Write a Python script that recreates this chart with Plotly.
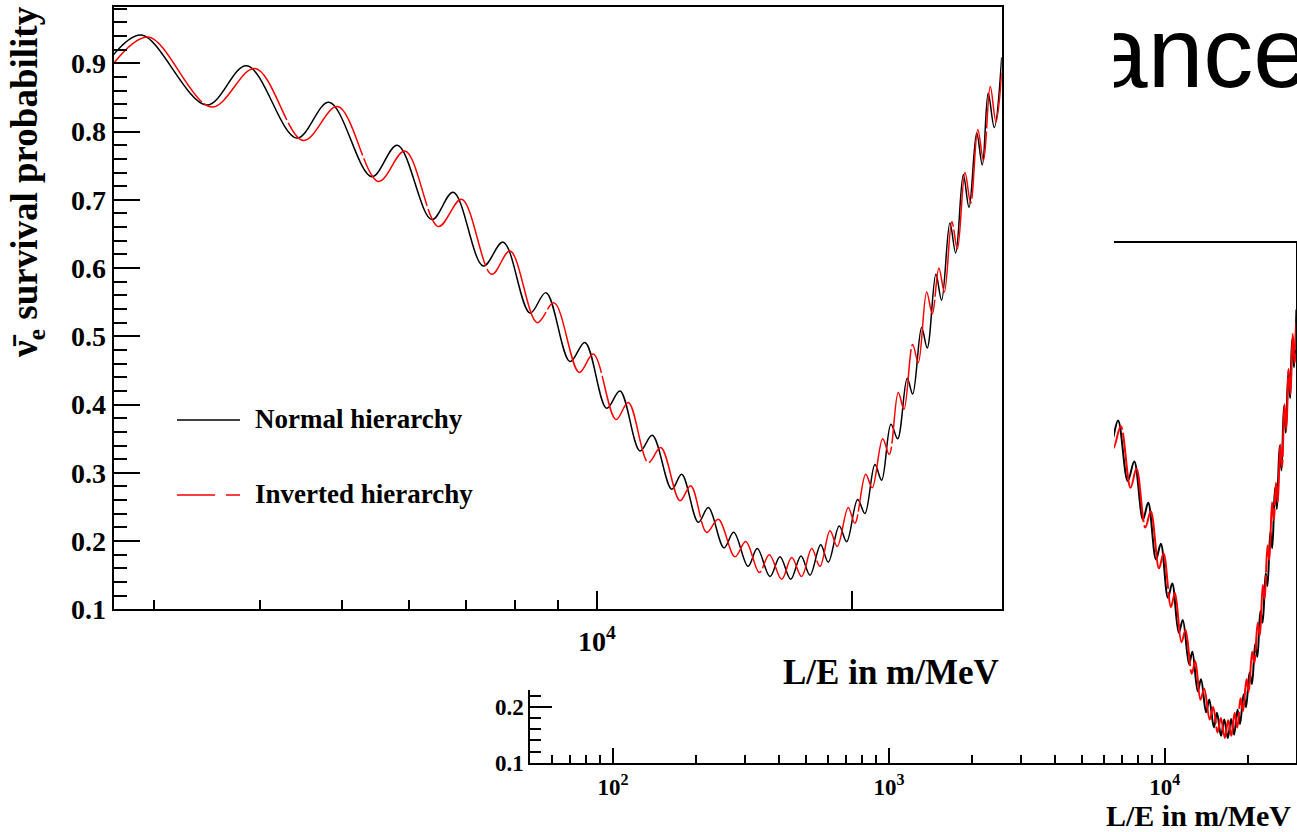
import math
import plotly.graph_objects as go

# ---------------- data ----------------
# L/E (m/MeV) of the turning points of the survival probability curves
le_nh = [2692, 2905, 3465, 3863, 4425, 4831, 5424, 5815, 6385, 6768, 7343, 7752, 8337, 8707,
         9294, 9678, 10266, 10644, 11239, 11620, 12250, 12587, 13167, 13530, 14119, 14495,
         15070, 15453, 15996, 16436, 16920, 17400, 17831, 18355, 18740, 19305, 19700, 20294,
         20701, 21270, 21661, 22216, 22624, 23220, 23565, 24147, 24518, 25100, 25491, 26073,
         26485, 27040, 27460, 28040, 28470, 28930, 29410, 30010]
p_nh = [0.913, 0.9415, 0.839, 0.8965, 0.7905, 0.843, 0.734, 0.780, 0.671, 0.711, 0.603, 0.638,
        0.534, 0.564, 0.463, 0.491, 0.3945, 0.420, 0.332, 0.355, 0.276, 0.298, 0.2275, 0.249,
        0.190, 0.213, 0.163, 0.189, 0.148, 0.177, 0.144, 0.178, 0.150, 0.1945, 0.169, 0.222,
        0.199, 0.261, 0.2405, 0.312, 0.289, 0.371, 0.350, 0.4385, 0.4155, 0.513, 0.483, 0.591,
        0.553, 0.666, 0.622, 0.737, 0.689, 0.798, 0.751, 0.856, 0.806, 0.909]

le_ih = [2692, 2958, 3512, 3952, 4505, 4945, 5523, 5937, 6501, 6924, 7513, 7897, 8502, 8899,
         9530, 9900, 10529, 10888, 11495, 11890, 12529, 12898, 13472, 13900, 14545, 14977,
         15539, 15967, 16512, 16966, 17433, 17913, 18323, 18826, 19203, 19781, 20144, 20742,
         21114, 21720, 22114, 22660, 23014, 23565, 23927, 24478, 24853, 25304, 25685, 26211,
         26607, 27164, 27587, 28125, 28561, 29092, 29545, 30010]
p_ih = [0.900, 0.9386, 0.836, 0.8925, 0.787, 0.8366, 0.727, 0.7715, 0.661, 0.7007, 0.591, 0.625,
        0.520, 0.549, 0.447, 0.474, 0.378, 0.403, 0.315, 0.337, 0.259, 0.281, 0.2125, 0.232,
        0.177, 0.1995, 0.154, 0.180, 0.144, 0.176, 0.148, 0.189, 0.163, 0.215, 0.192, 0.249,
        0.226, 0.298, 0.278, 0.350, 0.327, 0.4175, 0.393, 0.488, 0.4615, 0.565, 0.533, 0.600,
        0.565, 0.668, 0.628, 0.740, 0.695, 0.803, 0.758, 0.866, 0.814, 0.886]

series_names = ["Normal hierarchy", "Inverted hierarchy"]

# tick values / labels
main_x_major = [10000, 20000]
main_x_major_text = ["10<sup>4</sup>", ""]
main_x_minor = [3000, 4000, 5000, 6000, 7000, 8000, 9000]
main_y_major = [0.1, 0.2, 0.3, 0.4, 0.5, 0.6, 0.7, 0.8, 0.9]

small_x_major = [100, 1000, 10000]
small_x_major_text = ["10<sup>2</sup>", "10<sup>3</sup>", "10<sup>4</sup>"]
small_x_minor = [50, 60, 70, 80, 90, 200, 300, 400, 500, 600, 700, 800, 900,
                 2000, 3000, 4000, 5000, 6000, 7000, 8000, 9000, 20000]
small_y_major = [0.1, 0.2, 0.3, 0.4, 0.5, 0.6, 0.7, 0.8, 0.9, 1.0]

x_title = "L/E in m/MeV"
y_title = "ν\u0304<sub>e</sub> survival probability"
slide_text = "ance"

# ---------------- figure ----------------
W, H = 1297, 832
SERIF = "Liberation Serif, Times New Roman, serif"


def px_x(v):
    return v / W


def px_y(v):
    return 1 - v / H


fig = go.Figure()

# background plot (bottom right), subplot x/y
fig.add_trace(go.Scatter(x=le_nh, y=p_nh, mode="lines", name=series_names[0],
                         line=dict(color="black", width=2, shape="spline", smoothing=1),
                         xaxis="x", yaxis="y", hoverinfo="skip"))
fig.add_trace(go.Scatter(x=le_ih, y=p_ih, mode="lines", name=series_names[1],
                         line=dict(color="red", width=2, shape="spline", smoothing=1,
                                   dash="130px,3px"),
                         xaxis="x", yaxis="y", hoverinfo="skip"))

# white sheet of the foreground picture, subplot x2/y2
fig.add_trace(go.Scatter(x=[0.5], y=[0.5], mode="markers", marker=dict(opacity=0),
                         xaxis="x2", yaxis="y2", hoverinfo="skip"))

# main plot, subplot x3/y3
fig.add_trace(go.Scatter(x=le_nh, y=p_nh, mode="lines", name=series_names[0],
                         line=dict(color="black", width=1.5, shape="spline", smoothing=1),
                         xaxis="x3", yaxis="y3", hoverinfo="skip"))
fig.add_trace(go.Scatter(x=le_ih, y=p_ih, mode="lines", name=series_names[1],
                         line=dict(color="red", width=1.5, shape="spline", smoothing=1,
                                   dash="130px,3px"),
                         xaxis="x3", yaxis="y3", hoverinfo="skip"))

# slide title fragment, clipped, subplot x4/y4
fig.add_trace(go.Scatter(x=[-0.12], y=[0.52], mode="text", text=[slide_text],
                         textposition="middle right",
                         textfont=dict(family="Liberation Sans Narrow, Arial Narrow, sans-serif",
                                       size=100, color="black"),
                         xaxis="x4", yaxis="y4", hoverinfo="skip", cliponaxis=True))

axis_common = dict(showgrid=False, zeroline=False, showline=True, mirror=True,
                   linecolor="black", tickcolor="black", ticks="inside", automargin=False)

fig.update_layout(
    width=W, height=H, autosize=False,
    margin=dict(l=0, r=0, t=0, b=0, pad=0, autoexpand=False),
    paper_bgcolor="white", plot_bgcolor="white",
    showlegend=False,
    # background plot
    xaxis=dict(type="log", range=[math.log10(50), math.log10(30000)],
               domain=[px_x(530), px_x(1296.4)], anchor="y",
               tickmode="array", tickvals=small_x_major, ticktext=small_x_major_text,
               ticklen=15, tickwidth=1.5, linewidth=1.5, ticklabelstandoff=3,
               minor=dict(tickmode="array", tickvals=small_x_minor, ticks="inside",
                          ticklen=8, tickwidth=1.5, tickcolor="black"),
               tickfont=dict(family=SERIF, size=23, color="black", weight="bold"),
               **axis_common),
    yaxis=dict(range=[0.1, 1.028], domain=[px_y(762.7), px_y(243)], anchor="x",
               tickmode="array", tickvals=small_y_major,
               ticktext=["%.1f" % v for v in small_y_major],
               ticklen=22, tickwidth=1.5, linewidth=1.5,
               minor=dict(tickmode="linear", tick0=0.1, dtick=0.02, ticks="inside",
                          ticklen=11, tickwidth=1.5, tickcolor="black"),
               tickfont=dict(family=SERIF, size=23, color="black", weight="bold"),
               **axis_common),
    # white sheet
    xaxis2=dict(domain=[0, px_x(1114)], range=[0, 1], visible=False, anchor="y2"),
    yaxis2=dict(domain=[px_y(690), 1], range=[0, 1], visible=False, anchor="x2"),
    # main plot
    xaxis3=dict(type="log", range=[math.log10(2692), math.log10(30010)],
                domain=[px_x(113.7), px_x(1001.7)], anchor="y3",
                tickmode="array", tickvals=main_x_major, ticktext=main_x_major_text,
                ticklen=18, tickwidth=1.5, linewidth=2, ticklabelstandoff=6,
                minor=dict(tickmode="array", tickvals=main_x_minor, ticks="inside",
                           ticklen=9, tickwidth=1.5, tickcolor="black"),
                tickfont=dict(family=SERIF, size=28, color="black", weight="bold"),
                **axis_common),
    yaxis3=dict(range=[0.1, 0.983], domain=[px_y(609.3), px_y(6.7)], anchor="x3",
                tickmode="array", tickvals=main_y_major,
                ticktext=["%.1f" % v for v in main_y_major],
                ticklen=26, tickwidth=1.5, linewidth=2,
                minor=dict(tickmode="linear", tick0=0.1, dtick=0.02, ticks="inside",
                           ticklen=13, tickwidth=1.5, tickcolor="black"),
                tickfont=dict(family=SERIF, size=28, color="black", weight="bold"),
                **axis_common),
    # slide title fragment
    xaxis4=dict(domain=[px_x(1114), 1], range=[0, 1], visible=False, anchor="y4"),
    yaxis4=dict(domain=[px_y(130), 1], range=[0, 1], visible=False, anchor="x4"),
)

# legend (drawn like the ROOT TLegend)
fig.add_shape(type="line", xref="paper", yref="paper",
              x0=px_x(177), x1=px_x(240), y0=px_y(420), y1=px_y(420),
              line=dict(color="black", width=1.5))
fig.add_shape(type="line", xref="paper", yref="paper",
              x0=px_x(177), x1=px_x(240), y0=px_y(495), y1=px_y(495),
              line=dict(color="red", width=1.5, dash="38px,11px"))
fig.add_annotation(text=series_names[0], xref="paper", yref="paper",
                   x=px_x(253), y=px_y(419), xanchor="left", yanchor="middle",
                   showarrow=False, font=dict(family=SERIF, size=27, color="black", weight="bold"))
fig.add_annotation(text=series_names[1], xref="paper", yref="paper",
                   x=px_x(253), y=px_y(494), xanchor="left", yanchor="middle",
                   showarrow=False, font=dict(family=SERIF, size=27, color="black", weight="bold"))

# axis titles
fig.add_annotation(text=x_title, xref="paper", yref="paper",
                   x=px_x(1000.6), y=px_y(672), xanchor="right", yanchor="middle",
                   showarrow=False, font=dict(family=SERIF, size=35, color="black", weight="bold"))
fig.add_annotation(text=y_title, xref="paper", yref="paper", textangle=-90,
                   x=px_x(27), y=px_y(182), xanchor="center", yanchor="middle",
                   showarrow=False, font=dict(family=SERIF, size=37, color="black", weight="bold"))
fig.add_annotation(text=x_title, xref="paper", yref="paper",
                   x=px_x(1293), y=px_y(815), xanchor="right", yanchor="middle",
                   showarrow=False, font=dict(family=SERIF, size=30, color="black", weight="bold"))

fig.write_html("out.html")
